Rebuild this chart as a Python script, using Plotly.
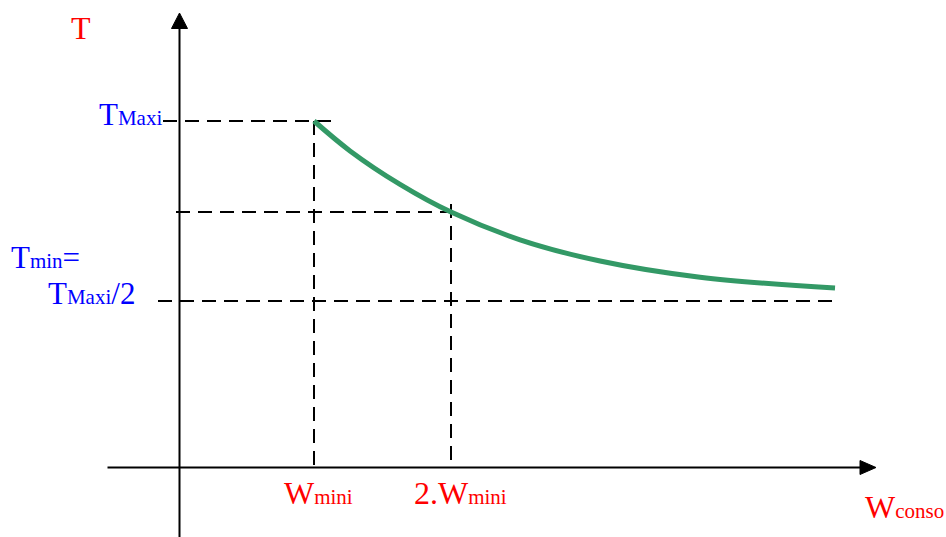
import plotly.graph_objects as go

# ---- data (schematic units: W in multiples of W_mini, T in multiples of T_Maxi)
W_curve = [1.0, 1.263, 1.628, 2.0, 2.504, 3.088, 3.818, 4.803]
T_curve = [1.0, 0.917, 0.824, 0.747, 0.670, 0.611, 0.566, 0.536]

W_mini = 1.0
W_2mini = 2.0
T_maxi = 1.0
T_min = 0.5
T_at_2W = 0.747

SUB = "<span style=\"font-size:21px\">{}</span>"
x_labels = ["W" + SUB.format("mini"), "2.W" + SUB.format("mini")]
axis_title_x = "W" + SUB.format("conso")
axis_title_y = "T"
y_labels = ["T" + SUB.format("Maxi"),
            "T" + SUB.format("min") + "=",
            "T" + SUB.format("Maxi") + "/2"]

# ---- layout helpers (pixel <-> data / paper)
WIDTH, HEIGHT = 946, 537
X0, SX = 177.0, 137.0       # px = X0 + SX * W
Y0, SY = 481.0, 360.0       # py = Y0 - SY * T


def px2x(px):
    return (px - X0) / SX


def py2y(py):
    return (Y0 - py) / SY


def pX(px):
    return px / WIDTH


def pY(py):
    return 1 - py / HEIGHT


FONT = "Liberation Serif, Times New Roman, serif"
RED = "#ff0000"
BLUE = "#0000ff"
GREEN = "#339966"
DASH = "14px,8px"

fig = go.Figure()

T_axis = py2y(467.5)

# dashed guide lines
guides = [
    ([px2x(163), px2x(333)], [T_maxi, T_maxi]),
    ([W_mini, W_mini], [T_maxi, T_axis]),
    ([px2x(176), px2x(460)], [T_at_2W, T_at_2W]),
    ([W_2mini, W_2mini], [py2y(204), T_axis]),
    ([px2x(158), px2x(833)], [T_min, T_min]),
]
for gx, gy in guides:
    fig.add_trace(go.Scatter(x=gx, y=gy, mode="lines",
                             line=dict(color="black", width=2, dash=DASH),
                             hoverinfo="skip", showlegend=False))

# curve
fig.add_trace(go.Scatter(x=W_curve, y=T_curve, mode="lines",
                         line=dict(color=GREEN, width=5, shape="spline", smoothing=1.0),
                         showlegend=False))

shapes = [
    # y axis
    dict(type="line", xref="paper", yref="paper",
         x0=pX(179.5), x1=pX(179.5), y0=pY(537), y1=pY(27),
         line=dict(color="black", width=2)),
    dict(type="path", xref="paper", yref="paper",
         path=f"M {pX(171.5)},{pY(28.5)} L {pX(179.5)},{pY(13)} L {pX(187.5)},{pY(28.5)} Z",
         fillcolor="black", line=dict(color="black", width=1)),
    # x axis
    dict(type="line", xref="paper", yref="paper",
         x0=pX(107.5), x1=pX(862), y0=pY(467.5), y1=pY(467.5),
         line=dict(color="black", width=2)),
    dict(type="path", xref="paper", yref="paper",
         path=f"M {pX(860)},{pY(460.5)} L {pX(876)},{pY(467.5)} L {pX(860)},{pY(474.5)} Z",
         fillcolor="black", line=dict(color="black", width=1)),
]

ann = []


def label(text, px, py, color, size, xanchor):
    ann.append(dict(text=text, x=pX(px), y=pY(py), xref="paper", yref="paper",
                    xanchor=xanchor, yanchor="middle", showarrow=False,
                    font=dict(family=FONT, size=size, color=color)))


label(axis_title_y, 80.5, 28, RED, 32, "center")
label(y_labels[0], 164, 114, BLUE, 31, "right")
label(y_labels[1], 9, 257, BLUE, 31, "left")
label(y_labels[2], 46, 293, BLUE, 31, "left")
label(x_labels[0], 282, 493, RED, 32, "left")
label(x_labels[1], 412, 493, RED, 32, "left")
label(axis_title_x, 863, 507, RED, 32, "left")

fig.update_layout(
    width=WIDTH, height=HEIGHT,
    margin=dict(l=0, r=0, t=0, b=0),
    paper_bgcolor="white", plot_bgcolor="white",
    xaxis=dict(range=[px2x(0), px2x(WIDTH)], visible=False, fixedrange=True),
    yaxis=dict(range=[py2y(HEIGHT), py2y(0)], visible=False, fixedrange=True),
    shapes=shapes, annotations=ann, showlegend=False,
)

fig.write_html("out.html", config={"displayModeBar": False},
               post_script="document.body.style.margin='0';document.body.style.overflow='hidden';")
